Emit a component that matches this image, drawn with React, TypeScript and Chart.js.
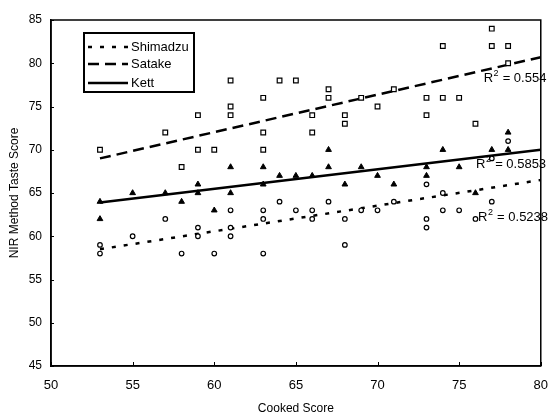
import React, { useEffect, useRef } from "react";
import { Chart, registerables } from "chart.js";

Chart.register(...registerables);

// ---- Data ----
const seriesNames = ["Shimadzu", "Satake", "Kett"];

const shimadzuX = [53, 53, 55, 57, 58, 59, 59, 60, 61, 61, 61, 63, 63, 63, 64, 65, 66, 66, 67, 68, 68, 69, 70, 71, 73, 73, 73, 74, 74, 75, 76, 77, 77, 78];
const shimadzuY = [59, 58, 60, 62, 58, 61, 60, 58, 63, 61, 60, 63, 62, 58, 64, 63, 63, 62, 64, 62, 59, 63, 63, 64, 66, 62, 61, 65, 63, 63, 62, 64, 69, 71];

const satakeX = [53, 57, 58, 59, 59, 60, 61, 61, 61, 63, 63, 63, 64, 65, 66, 66, 67, 67, 68, 68, 69, 70, 71, 73, 73, 74, 74, 75, 76, 77, 77, 78, 78];
const satakeY = [70, 72, 68, 74, 70, 70, 78, 75, 74, 76, 72, 70, 78, 78, 74, 72, 77, 76, 74, 73, 76, 75, 77, 76, 74, 82, 76, 76, 73, 84, 82, 82, 80];

const kettX = [53, 53, 55, 57, 58, 59, 59, 60, 61, 61, 63, 63, 64, 65, 66, 67, 67, 68, 69, 70, 71, 73, 73, 74, 75, 76, 77, 78, 78];
const kettY = [64, 62, 65, 65, 64, 66, 65, 63, 68, 65, 68, 66, 67, 67, 67, 70, 68, 66, 68, 67, 66, 68, 67, 70, 68, 65, 70, 72, 70];

// Trendline end points (x from 53 to 80)
const trendX = [53, 80];
const shimadzuTrend = [58.5, 66.5];
const satakeTrend = [69.0, 80.7];
const kettTrend = [63.9, 70.0];

const rSquaredValues = ["0.5238", "0.554", "0.5853"];

const xTickValues = [50, 55, 60, 65, 70, 75, 80];
const yTickValues = [45, 50, 55, 60, 65, 70, 75, 80, 85];

const toPoints = (xs: number[], ys: number[]) => xs.map((x, i) => ({ x, y: ys[i] }));

const FONT = "'Liberation Sans', Arial, sans-serif";

const dashStyles: Record<string, number[]> = {
  Shimadzu: [4, 8],
  Satake: [11, 6],
  Kett: [],
};

const decorPlugin = {
  id: "decor",
  afterDatasetsDraw(chart: any, _args: any, opts: any) {
    const { ctx, chartArea, scales } = chart;
    const xs = scales.x;
    const ys = scales.y;
    ctx.save();
    // frame
    ctx.strokeStyle = "#000";
    ctx.lineWidth = 1.5;
    ctx.strokeRect(chartArea.left, chartArea.top, chartArea.right - chartArea.left, chartArea.bottom - chartArea.top);
    // inward tick marks
    ctx.lineWidth = 1;
    xTickValues.forEach((v) => {
      const px = Math.round(xs.getPixelForValue(v)) + 0.5;
      ctx.beginPath();
      ctx.moveTo(px, chartArea.bottom);
      ctx.lineTo(px, chartArea.bottom - 4);
      ctx.stroke();
    });
    yTickValues.forEach((v) => {
      const py = Math.round(ys.getPixelForValue(v)) + 0.5;
      ctx.beginPath();
      ctx.moveTo(chartArea.left, py);
      ctx.lineTo(chartArea.left + 3, py);
      ctx.stroke();
    });

    // R squared labels
    ctx.fillStyle = "#000";
    ctx.textBaseline = "middle";
    ctx.textAlign = "left";
    (opts.rLabels || []).forEach((lab: any) => {
      let x = xs.getPixelForValue(lab.x);
      const y = ys.getPixelForValue(lab.y);
      ctx.font = `13px ${FONT}`;
      ctx.fillText("R", x, y);
      x += ctx.measureText("R").width;
      ctx.font = `9px ${FONT}`;
      ctx.fillText("2", x + 0.5, y - 5);
      x += ctx.measureText("2").width + 1;
      ctx.font = `13px ${FONT}`;
      ctx.fillText(" = " + lab.text, x, y);
    });

    // legend box
    const lg = opts.legend;
    const bx = chartArea.left + lg.dx;
    const by = chartArea.top + lg.dy;
    ctx.fillStyle = "#fff";
    ctx.fillRect(bx, by, lg.w, lg.h);
    ctx.strokeStyle = "#000";
    ctx.lineWidth = 2;
    ctx.strokeRect(bx, by, lg.w, lg.h);
    chart.data.datasets
      .filter((d: any) => d.type === "line")
      .forEach((d: any, i: number) => {
        const y = by + lg.rows[i];
        ctx.beginPath();
        ctx.setLineDash(d.borderDash || []);
        ctx.lineWidth = d.borderWidth;
        ctx.strokeStyle = "#000";
        ctx.moveTo(bx + 4, y);
        ctx.lineTo(bx + 44, y);
        ctx.stroke();
        ctx.setLineDash([]);
        ctx.fillStyle = "#000";
        ctx.font = `13px ${FONT}`;
        ctx.textBaseline = "middle";
        ctx.fillText(d.legendName, bx + 47, y + 0.5);
      });
    ctx.restore();
  },
};

export default function App() {
  const canvasRef = useRef<HTMLCanvasElement | null>(null);

  useEffect(() => {
    if (!canvasRef.current) return;
    const trendSets = [shimadzuTrend, satakeTrend, kettTrend].map((t, i) => ({
      type: "line" as const,
      label: seriesNames[i] + " trend",
      legendName: seriesNames[i],
      data: toPoints(trendX, t),
      borderColor: "#000",
      borderWidth: 2.5,
      borderDash: dashStyles[seriesNames[i]],
      pointRadius: 0,
      fill: false,
    }));

    const chart = new Chart(canvasRef.current, {
      type: "scatter",
      data: {
        datasets: [
          {
            label: seriesNames[0],
            data: toPoints(shimadzuX, shimadzuY),
            pointStyle: "circle",
            pointRadius: 2.3,
            pointBorderWidth: 1.2,
            pointBorderColor: "#000",
            pointBackgroundColor: "#fff",
          },
          {
            label: seriesNames[1],
            data: toPoints(satakeX, satakeY),
            pointStyle: "rect",
            pointRadius: 3.3,
            pointBorderWidth: 1.2,
            pointBorderColor: "#000",
            pointBackgroundColor: "#fff",
          },
          {
            label: seriesNames[2],
            data: toPoints(kettX, kettY),
            pointStyle: "triangle",
            pointRadius: 3.3,
            pointBorderWidth: 1,
            pointBorderColor: "#000",
            pointBackgroundColor: "#000",
          },
          ...(trendSets as any[]),
        ],
      },
      options: {
        responsive: false,
        animation: false,
        layout: { padding: { left: 0, top: 20, right: 9, bottom: 0 } },
        plugins: {
          legend: { display: false },
          tooltip: { enabled: false },
          decor: {
            rLabels: [
              { x: 76.16, y: 62.2, text: rSquaredValues[0] },
              { x: 76.5, y: 78.2, text: rSquaredValues[1] },
              { x: 76.04, y: 68.35, text: rSquaredValues[2] },
            ],
            legend: { dx: 33, dy: 13, w: 110, h: 59, rows: [14, 31, 50] },
          },
        } as any,
        scales: {
          x: {
            type: "linear",
            min: 50,
            max: 80,
            afterBuildTicks: (s: any) => {
              s.ticks = xTickValues.map((v) => ({ value: v }));
            },
            afterFit: (s: any) => {
              s.height = 50;
            },
            grid: { display: false, drawTicks: false },
            border: { display: true, color: "#000", width: 1.5 },
            ticks: { color: "#000", font: { family: FONT, size: 13 }, padding: 12 },
            title: {
              display: true,
              text: "Cooked Score",
              color: "#000",
              font: { family: FONT, size: 12 },
              padding: { top: 0, bottom: 0 },
            },
          },
          y: {
            type: "linear",
            min: 45,
            max: 85,
            afterBuildTicks: (s: any) => {
              s.ticks = yTickValues.map((v) => ({ value: v }));
            },
            afterFit: (s: any) => {
              s.width = 51;
            },
            grid: { display: false, drawTicks: false },
            border: { display: true, color: "#000", width: 1.5 },
            ticks: { color: "#000", font: { family: FONT, size: 12 }, padding: 9 },
            title: {
              display: true,
              text: "NIR Method Taste Score",
              color: "#000",
              font: { family: FONT, size: 12 },
              padding: { top: 7, bottom: 0 },
            },
          },
        },
      },
      plugins: [decorPlugin],
    });
    return () => chart.destroy();
  }, []);

  return (
    <div style={{ position: "fixed", left: 0, top: 0, width: 560, height: 416, background: "#fff" }}>
      <canvas ref={canvasRef} width={560} height={416} style={{ display: "block" }} />
    </div>
  );
}
